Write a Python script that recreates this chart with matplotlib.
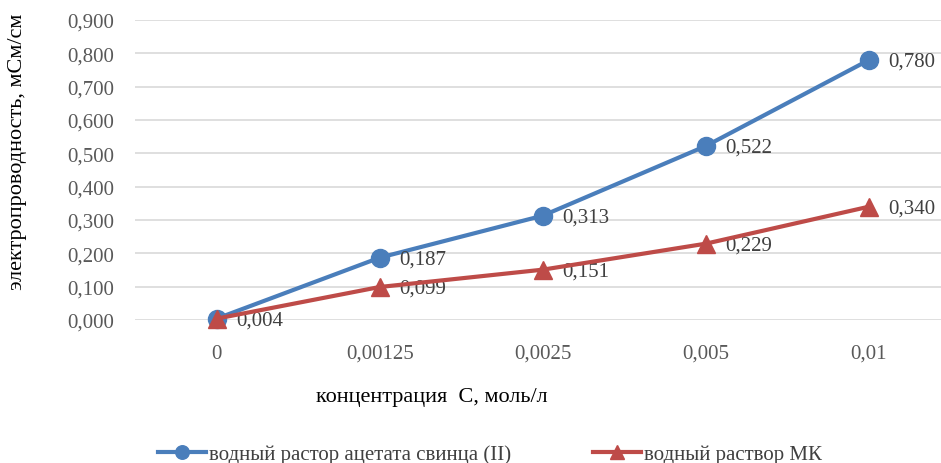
import matplotlib.pyplot as plt
import numpy as np

plt.rcParams['font.family'] = ['Liberation Serif', 'DejaVu Serif']

concentrations = ["0", "0,00125", "0,0025", "0,005", "0,01"]
lead_acetate = [0.004, 0.187, 0.313, 0.522, 0.780]
mk_solution = [0.004, 0.099, 0.151, 0.229, 0.340]

blue = "#4a7ebb"
red = "#be4b48"
grey = "#595959"


def fmt(v):
    return f"{v:.3f}".replace(".", ",")


fig = plt.figure(figsize=(9.41, 4.64), dpi=100)
ax = fig.add_axes([135 / 941, 143 / 464, (950.5 - 135) / 941, 300 / 464])

x = np.arange(len(concentrations))
ax.plot(x, lead_acetate, color=blue, lw=3, marker="o", ms=13,
        label="водный растор ацетата свинца (II)", clip_on=False, zorder=3)
ax.plot(x, mk_solution, color=red, lw=3, marker="^", ms=13,
        label="водный раствор МК", clip_on=False, zorder=4)

# value labels to the right of each point (the first red one overlaps the blue one)
for xi, v in zip(x, lead_acetate):
    ax.annotate(fmt(v), (xi, v), xytext=(14, -1), textcoords="offset points",
                va="center", ha="left", fontsize=15, color="#404040")
for xi, v in zip(x[1:], mk_solution[1:]):
    ax.annotate(fmt(v), (xi, v), xytext=(14, -1), textcoords="offset points",
                va="center", ha="left", fontsize=15, color="#404040")

ax.set_xlim(-0.5, 4.5)
ax.set_ylim(0, 0.9)
ax.set_yticks(np.arange(0, 0.91, 0.1))
ax.set_yticklabels([fmt(v) for v in np.arange(0, 0.91, 0.1)])
ax.set_xticks(x)
ax.set_xticklabels(concentrations)
ax.tick_params(length=0, labelsize=15, colors=grey, pad=17)
ax.tick_params(axis="y", pad=15)
ax.grid(axis="y", color="#d9d9d9", lw=1.2)
ax.set_axisbelow(True)
for s in ax.spines.values():
    s.set_visible(False)

fig.text(432 / 941, 1 - 398 / 464, "концентрация  С, моль/л", ha="center",
         va="center", fontsize=16)
fig.text(18 / 941, 1 - 152 / 464, "электропроводность, мСм/см", rotation=90,
         ha="center", va="center", fontsize=16)

leg = fig.legend(loc="center", bbox_to_anchor=(490 / 941, 1 - 455 / 464), ncol=2,
                 frameon=False, fontsize=15, handlelength=2.3, handletextpad=0.15,
                 columnspacing=3.9, borderaxespad=0, markerscale=0.75)
for t in leg.get_texts():
    t.set_color("#404040")

fig.savefig("out.png", dpi=100)
